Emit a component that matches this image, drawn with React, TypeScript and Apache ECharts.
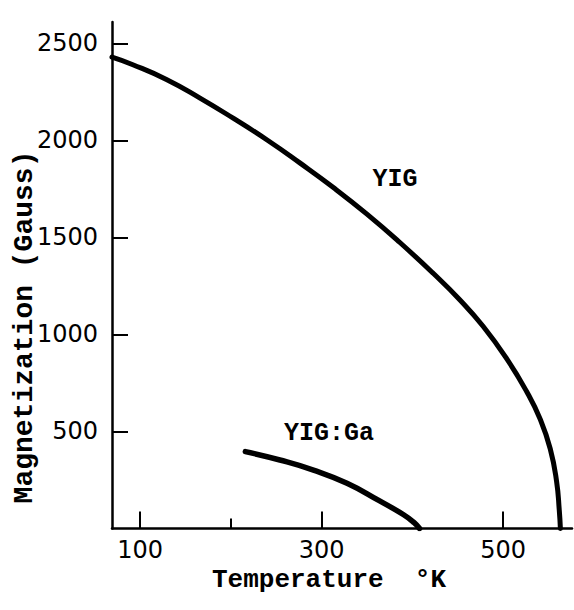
import React, { useEffect, useRef } from "react";
import * as echarts from "echarts";

// Temperature (K) / Magnetization (Gauss)
const yigTemp = [69, 92, 129, 166, 203, 240, 276, 313, 350, 386, 423, 452, 478, 504, 526, 541, 552, 559, 562, 563.2];
const yigMag = [2429, 2390, 2314, 2218, 2113, 2002, 1884, 1757, 1620, 1475, 1315, 1180, 1042, 875, 706, 563, 411, 243, 93, 0];

const gaTemp = [216, 254, 291, 328, 364, 390, 402, 408];
const gaMag = [396, 353, 301, 233, 142, 72, 30, 0];

const xTickLabels = [100, 300, 500];
const xMinorTicks = [200];
const yTickLabels = [500, 1000, 1500, 2000, 2500];

const seriesNames = ["YIG", "YIG:Ga"];
const xName = "Temperature  °K";
const yName = "Magnetization (Gauss)";

const MONO = "Liberation Mono";
const NUM = "DejaVu Sans";

export default function App() {
  const ref = useRef<HTMLDivElement>(null);

  useEffect(() => {
    if (!ref.current) return;
    const chart = echarts.init(ref.current, null, { renderer: "svg" });
    const pairs = (xs: number[], ys: number[]) => xs.map((x, i) => [x, ys[i]]);
    const lineStyleBase = { color: "#000", width: 5, cap: "round" as const, join: "round" as const };
    const txt = (text: string, size: number) => ({
      text,
      fontFamily: MONO,
      fontWeight: "bold",
      fontSize: size,
      fill: "#000",
      align: "center",
      verticalAlign: "middle",
    });

    chart.setOption({
      animation: false,
      backgroundColor: "#fff",
      grid: { left: 112, right: 2, top: 22, bottom: 81.5, containLabel: false },
      xAxis: [
        {
          type: "value",
          min: 69,
          max: 576,
          axisLine: { show: true, onZero: false, lineStyle: { color: "#000", width: 2.5 } },
          axisTick: { show: true, inside: true, length: 17, customValues: xTickLabels, lineStyle: { color: "#000", width: 2 } },
          axisLabel: {
            show: true,
            customValues: xTickLabels,
            margin: 9,
            color: "#000",
            fontSize: 24,
            fontFamily: NUM,
            formatter: (v: number) => String(v),
          },
          splitLine: { show: false },
        },
        {
          type: "value",
          min: 69,
          max: 576,
          position: "bottom",
          axisLine: { show: false },
          axisTick: { show: true, inside: true, length: 10, customValues: xMinorTicks, lineStyle: { color: "#000", width: 2 } },
          axisLabel: { show: false },
          splitLine: { show: false },
        },
      ],
      yAxis: {
        type: "value",
        min: 0,
        max: 2610,
        axisLine: { show: true, onZero: false, lineStyle: { color: "#000", width: 2.5 } },
        axisTick: { show: true, inside: true, length: 16, customValues: yTickLabels, lineStyle: { color: "#000", width: 2 } },
        axisLabel: {
          show: true,
          customValues: yTickLabels,
          margin: 14,
          color: "#000",
          fontSize: 24,
          fontFamily: NUM,
          formatter: (v: number) => String(v),
        },
        splitLine: { show: false },
      },
      series: [
        {
          name: seriesNames[0],
          type: "line",
          xAxisIndex: 0,
          data: pairs(yigTemp, yigMag),
          smooth: 0.5,
          showSymbol: false,
          symbol: "none",
          lineStyle: lineStyleBase,
        },
        {
          name: seriesNames[1],
          type: "line",
          xAxisIndex: 0,
          data: pairs(gaTemp, gaMag),
          smooth: 0.5,
          showSymbol: false,
          symbol: "none",
          lineStyle: { ...lineStyleBase, width: 5.5 },
        },
      ],
      graphic: [
        { type: "text", x: 395, y: 179, style: txt(seriesNames[0], 25) },
        { type: "text", x: 329, y: 433, style: txt(seriesNames[1], 25) },
        { type: "text", x: 329, y: 580, style: txt(xName, 26) },
        { type: "text", x: 24, y: 327, rotation: Math.PI / 2, style: txt(yName, 28) },
      ],
    });

    return () => chart.dispose();
  }, []);

  return (
    <div
      ref={ref}
      style={{ position: "absolute", left: 0, top: 0, width: 574, height: 610, background: "#fff" }}
    />
  );
}
